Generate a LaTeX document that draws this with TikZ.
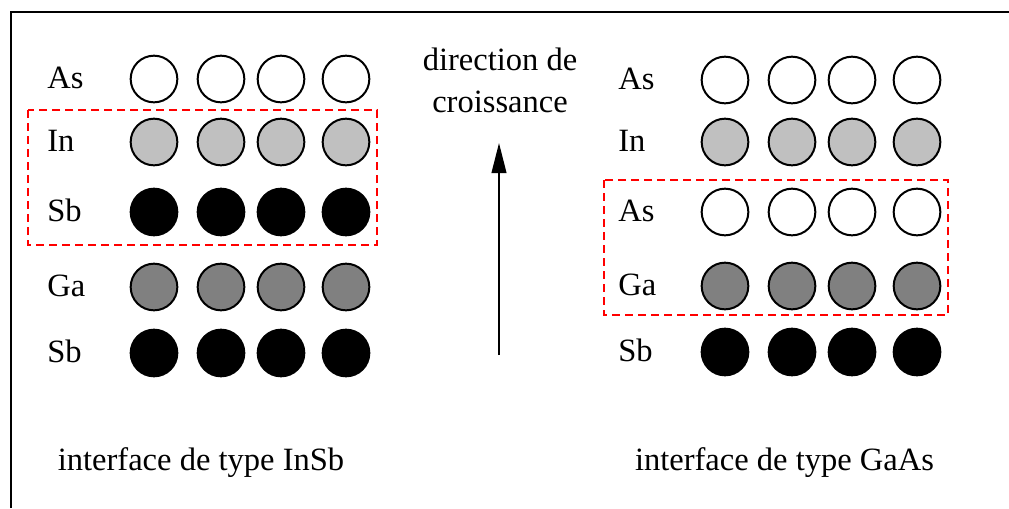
\documentclass[tikz,border=0pt]{standalone}
\usepackage{fontspec}
\setmainfont{Liberation Serif}
\usetikzlibrary{arrows.meta,positioning}
\definecolor{incol}{RGB}{192,192,192}
\definecolor{gacol}{RGB}{128,128,128}
\definecolor{boxcol}{RGB}{255,0,0}

\begin{document}
\begin{tikzpicture}[x=0.75pt,y=-0.75pt,>={Triangle[length=22.5pt,width=11pt]},
  atom/.style={circle,draw=black,line width=1.5pt,minimum size=35pt,inner sep=0pt},
  lbl/.style={anchor=base west,inner sep=0pt,font=\fontsize{24.4}{29}\selectfont},
  txt/.style={anchor=base,inner sep=0pt,font=\fontsize{24.4}{29}\selectfont},
  iface/.style={draw=boxcol,line width=1.5pt,dash pattern=on 6pt off 3.75pt}]
  \useasboundingbox (0,0) rectangle (1009,508);
  \draw[line width=1.5pt] (11,508) |- (1009,12);
  % InSb-type stack (left)
  \foreach \nm/\fc/\y [count=\r] in {As/white/79,In/incol/142,Sb/black/212,Ga/gacol/287,Sb/black/353}{
    \node[lbl] (lname\r) at (47,\y+9) {\nm};
    \foreach \x [count=\c] in {154,221,281,346}
      {\node[atom,fill=\fc] (l\r\c) at (\x,\y) {};}
  }
  % GaAs-type stack (right)
  \foreach \nm/\fc/\y [count=\r] in {As/white/80,In/incol/142,As/white/212,Ga/gacol/286,Sb/black/352}{
    \node[lbl] (rname\r) at (618,\y+9) {\nm};
    \foreach \x [count=\c] in {725,792,852,917}
      {\node[atom,fill=\fc] (r\r\c) at (\x,\y) {};}
  }
  % interface layers
  \draw[iface] (28,110) rectangle (377,245);
  \draw[iface] (604,180) rectangle (948,315);
  % growth direction
  \node[txt] (dir1) at (500,70) {direction de};
  \node[txt] (dir2) at (500,112) {croissance};
  \coordinate (arrtail) at (499,355);
  \coordinate (arrtip) at (499,143);
  \draw[line width=1.5pt,->] (arrtail) -- (arrtip);
  \node[txt] (capl) at (201,470) {interface de type InSb};
  \node[txt] (capr) at (784.5,470) {interface de type GaAs};
\end{tikzpicture}
\end{document}
